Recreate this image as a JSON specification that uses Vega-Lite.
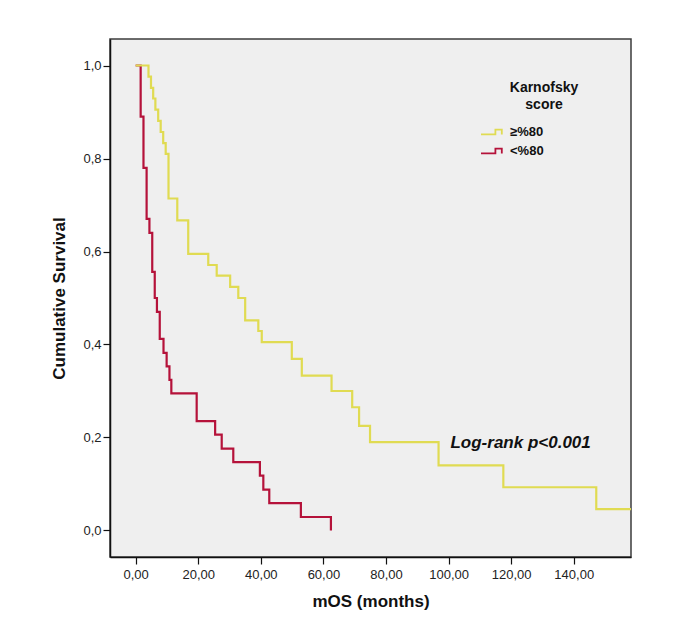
{
  "$schema": "https://vega.github.io/schema/vega-lite/v6.json",
  "width": 521,
  "height": 518,
  "autosize": {"type": "none"},
  "padding": {"left": 110, "top": 39, "right": 46, "bottom": 62},
  "background": "white",
  "config": {
    "font": "Liberation Sans",
    "view": {"fill": "#efefef", "stroke": "#3c3c3c", "strokeWidth": 1.5},
    "axis": {
      "grid": false,
      "domainColor": "#111111",
      "domainWidth": 1.5,
      "tickColor": "#111111",
      "tickWidth": 1.2,
      "tickSize": 7,
      "labelColor": "#222222",
      "labelFont": "Liberation Sans",
      "labelFontSize": 13,
      "titleColor": "#111111",
      "titleFont": "Liberation Sans",
      "titleFontSize": 17,
      "titleFontWeight": "bold"
    }
  },
  "layer": [
    {
      "data": {
        "values": [
          {"time": 0, "survival": 1.0, "group": "<%80"},
          {"time": 1.6, "survival": 0.89, "group": "<%80"},
          {"time": 2.5, "survival": 0.78, "group": "<%80"},
          {"time": 3.5, "survival": 0.67, "group": "<%80"},
          {"time": 4.4, "survival": 0.64, "group": "<%80"},
          {"time": 5.3, "survival": 0.556, "group": "<%80"},
          {"time": 6.1, "survival": 0.5, "group": "<%80"},
          {"time": 6.8, "survival": 0.47, "group": "<%80"},
          {"time": 7.7, "survival": 0.412, "group": "<%80"},
          {"time": 8.9, "survival": 0.382, "group": "<%80"},
          {"time": 9.9, "survival": 0.353, "group": "<%80"},
          {"time": 10.8, "survival": 0.324, "group": "<%80"},
          {"time": 11.4, "survival": 0.295, "group": "<%80"},
          {"time": 19.5, "survival": 0.235, "group": "<%80"},
          {"time": 25.4, "survival": 0.206, "group": "<%80"},
          {"time": 27.5, "survival": 0.176, "group": "<%80"},
          {"time": 31.2, "survival": 0.147, "group": "<%80"},
          {"time": 39.7, "survival": 0.118, "group": "<%80"},
          {"time": 40.8, "survival": 0.088, "group": "<%80"},
          {"time": 42.7, "survival": 0.059, "group": "<%80"},
          {"time": 52.8, "survival": 0.029, "group": "<%80"},
          {"time": 62.4, "survival": 0.0, "group": "<%80"},
          {"time": 0, "survival": 1.0, "group": "≥%80"},
          {"time": 4.1, "survival": 0.976, "group": "≥%80"},
          {"time": 4.9, "survival": 0.952, "group": "≥%80"},
          {"time": 5.6, "survival": 0.929, "group": "≥%80"},
          {"time": 6.3, "survival": 0.905, "group": "≥%80"},
          {"time": 7.2, "survival": 0.881, "group": "≥%80"},
          {"time": 8.0, "survival": 0.857, "group": "≥%80"},
          {"time": 8.8, "survival": 0.833, "group": "≥%80"},
          {"time": 9.6, "survival": 0.81, "group": "≥%80"},
          {"time": 10.5, "survival": 0.714, "group": "≥%80"},
          {"time": 13.3, "survival": 0.667, "group": "≥%80"},
          {"time": 16.8, "survival": 0.595, "group": "≥%80"},
          {"time": 23.2, "survival": 0.571, "group": "≥%80"},
          {"time": 25.9, "survival": 0.548, "group": "≥%80"},
          {"time": 30.2, "survival": 0.524, "group": "≥%80"},
          {"time": 32.8, "survival": 0.5, "group": "≥%80"},
          {"time": 35.0, "survival": 0.452, "group": "≥%80"},
          {"time": 39.2, "survival": 0.429, "group": "≥%80"},
          {"time": 40.3, "survival": 0.405, "group": "≥%80"},
          {"time": 49.9, "survival": 0.369, "group": "≥%80"},
          {"time": 53.1, "survival": 0.333, "group": "≥%80"},
          {"time": 62.6, "survival": 0.3, "group": "≥%80"},
          {"time": 69.2, "survival": 0.265, "group": "≥%80"},
          {"time": 71.4, "survival": 0.225, "group": "≥%80"},
          {"time": 74.9, "survival": 0.19, "group": "≥%80"},
          {"time": 96.8, "survival": 0.14, "group": "≥%80"},
          {"time": 117.5, "survival": 0.093, "group": "≥%80"},
          {"time": 147.2, "survival": 0.046, "group": "≥%80"},
          {"time": 158.3, "survival": 0.046, "group": "≥%80"}
        ]
      },
      "mark": {"type": "line", "interpolate": "step-after", "strokeWidth": 2.2, "clip": true},
      "encoding": {
        "x": {
          "field": "time",
          "type": "quantitative",
          "scale": {"domain": [-8.2, 158.3], "nice": false, "zero": false},
          "axis": {
            "values": [0, 20, 40, 60, 80, 100, 120, 140],
            "labelExpr": "replace(format(datum.value, '.2f'), '.', ',')",
            "title": "mOS (months)",
            "labelPadding": 4,
            "titlePadding": 12
          }
        },
        "y": {
          "field": "survival",
          "type": "quantitative",
          "scale": {"domain": [-0.057, 1.057], "nice": false, "zero": false},
          "axis": {
            "values": [0, 0.2, 0.4, 0.6, 0.8, 1.0],
            "labelExpr": "replace(format(datum.value, '.1f'), '.', ',')",
            "title": "Cumulative Survival",
            "labelPadding": 2,
            "titlePadding": 14
          }
        },
        "color": {
          "field": "group",
          "type": "nominal",
          "scale": {"domain": ["≥%80", "<%80"], "range": ["#e0db52", "#b5123a"]},
          "legend": {
            "orient": "none",
            "legendX": 374,
            "legendY": 42,
            "padding": 0,
            "title": ["Karnofsky", "score"],
            "titleFontSize": 14,
            "titleFontWeight": "bold",
            "titleColor": "#111111",
            "titleAlign": "center",
            "titleAnchor": "end",
            "titleLineHeight": 17,
            "titlePadding": 11,
            "labelFontSize": 13,
            "labelFontWeight": "bold",
            "labelColor": "#111111",
            "labelOffset": 8,
            "symbolType": "M-1.5,0.3H0.3V-0.3H1.1V0.3",
            "symbolSize": 256,
            "symbolStrokeWidth": 1.8,
            "symbolFillColor": "transparent",
            "rowPadding": 3
          }
        }
      }
    },
    {
      "data": {"values": [{"time": 100.6, "survival": 0.177, "label": "Log-rank p<0.001"}]},
      "mark": {"type": "text", "align": "left", "baseline": "alphabetic", "fontSize": 17, "fontWeight": "bold", "fontStyle": "italic", "color": "#111111"},
      "encoding": {
        "x": {"field": "time", "type": "quantitative"},
        "y": {"field": "survival", "type": "quantitative"},
        "text": {"field": "label"}
      }
    }
  ]
}
